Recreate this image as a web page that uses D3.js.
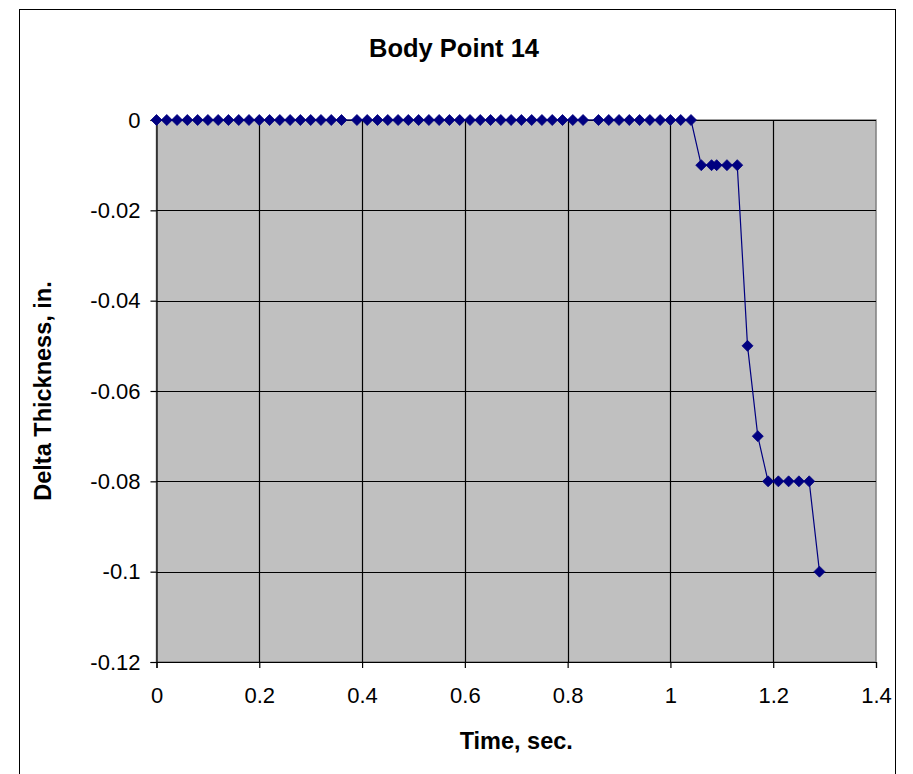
<!DOCTYPE html>
<html>
<head>
<meta charset="utf-8">
<script src="https://cdn.jsdelivr.net/npm/d3@7"></script>
<style>
  html, body { margin: 0; padding: 0; background: #fff; }
  svg { display: block; }
  text { font-family: "Liberation Sans", Arial, sans-serif; fill: #000; }
</style>
</head>
<body>
<svg id="chart" width="913" height="774"></svg>
<script>
// Sample times (sec.) and the measured change in thickness (in.) at body point 14
const times = [
  0, 0.02, 0.04, 0.06, 0.08, 0.10, 0.12, 0.14, 0.16, 0.18,
  0.20, 0.22, 0.24, 0.26, 0.28, 0.30, 0.32, 0.34, 0.36,
  0.39, 0.41, 0.43, 0.45, 0.47, 0.49, 0.51, 0.53, 0.55, 0.57,
  0.59, 0.61, 0.63, 0.65, 0.67, 0.69, 0.71, 0.73, 0.75, 0.77,
  0.79, 0.81, 0.83,
  0.86, 0.88, 0.90, 0.92, 0.94, 0.96, 0.98, 1.00, 1.02, 1.04,
  1.06, 1.08, 1.09, 1.11, 1.13,
  1.15, 1.17,
  1.19, 1.21, 1.23, 1.25, 1.27,
  1.29
];
const deltaThickness = [
  0, 0, 0, 0, 0, 0, 0, 0, 0, 0,
  0, 0, 0, 0, 0, 0, 0, 0, 0,
  0, 0, 0, 0, 0, 0, 0, 0, 0, 0,
  0, 0, 0, 0, 0, 0, 0, 0, 0, 0,
  0, 0, 0,
  0, 0, 0, 0, 0, 0, 0, 0, 0, 0,
  -0.01, -0.01, -0.01, -0.01, -0.01,
  -0.05, -0.07,
  -0.08, -0.08, -0.08, -0.08, -0.08,
  -0.10
];
const xTicks = [0, 0.2, 0.4, 0.6, 0.8, 1, 1.2, 1.4];
const yTicks = [0, -0.02, -0.04, -0.06, -0.08, -0.1, -0.12];
const xTickLabels = ["0", "0.2", "0.4", "0.6", "0.8", "1", "1.2", "1.4"];
const yTickLabels = ["0", "-0.02", "-0.04", "-0.06", "-0.08", "-0.1", "-0.12"];

const chartTitle = "Body Point 14";
const xTitle = "Time, sec.";
const yTitle = "Delta Thickness, in.";

const svg = d3.select("#chart");
const plot = { left: 156.5, right: 876, top: 120, bottom: 662 };

const x = d3.scaleLinear().domain([0, 1.4]).range([plot.left, plot.right]);
const y = d3.scaleLinear().domain([-0.12, 0]).range([plot.bottom, plot.top]);

// Chart area frame (runs off the bottom of the page)
svg.append("rect")
  .attr("x", 19.5).attr("y", 9.5)
  .attr("width", 876).attr("height", 800)
  .attr("fill", "#fff").attr("stroke", "#000").attr("stroke-width", 1);

// Plot area
svg.append("rect")
  .attr("x", plot.left).attr("y", plot.top)
  .attr("width", plot.right - plot.left).attr("height", plot.bottom - plot.top)
  .attr("fill", "#c0c0c0").attr("stroke", "#808080").attr("stroke-width", 1.5);

// Grid lines
const grid = svg.append("g").attr("stroke", "#000").attr("stroke-width", 1.2);
grid.selectAll("line.h").data(yTicks).join("line")
  .attr("class", "h")
  .attr("x1", plot.left).attr("x2", plot.right)
  .attr("y1", d => Math.round(y(d)) + 0.5).attr("y2", d => Math.round(y(d)) + 0.5);
grid.selectAll("line.v").data(xTicks.slice(1, -1)).join("line")
  .attr("class", "v")
  .attr("y1", plot.top).attr("y2", plot.bottom)
  .attr("x1", d => Math.round(x(d)) + 0.5).attr("x2", d => Math.round(x(d)) + 0.5);

// Axes
const xAxis = d3.axisBottom(x).tickValues(xTicks)
  .tickFormat((d, i) => xTickLabels[i]).tickSize(6).tickPadding(19);
const yAxis = d3.axisLeft(y).tickValues(yTicks)
  .tickFormat((d, i) => yTickLabels[i]).tickSize(6).tickPadding(10);

const gx = svg.append("g").attr("transform", `translate(0,${plot.bottom})`).call(xAxis);
const gy = svg.append("g").attr("transform", `translate(${plot.left},0)`).call(yAxis);
[gx, gy].forEach(g => {
  g.select(".domain").attr("stroke", "#000").attr("stroke-width", 1.2);
  g.selectAll(".tick line").attr("stroke", "#000").attr("stroke-width", 1.2);
  g.selectAll(".tick text")
    .attr("font-family", "Liberation Sans, Arial, sans-serif")
    .attr("font-size", 22).attr("fill", "#000");
});

// Series line and diamond markers
const pts = times.map((t, i) => [t, deltaThickness[i]]);
svg.append("path")
  .datum(pts)
  .attr("fill", "none").attr("stroke", "#000080").attr("stroke-width", 1.2)
  .attr("d", d3.line().x(d => x(d[0])).y(d => y(d[1])));

const diamond = "M0,-5.5L5.5,0L0,5.5L-5.5,0Z";
svg.append("g").selectAll("path").data(pts).join("path")
  .attr("d", diamond)
  .attr("transform", d => `translate(${x(d[0])},${y(d[1])})`)
  .attr("fill", "#000080").attr("stroke", "#000080").attr("stroke-width", 0.8);

// Titles
svg.append("text")
  .attr("x", 454).attr("y", 57)
  .attr("text-anchor", "middle")
  .attr("font-size", 25.5).attr("font-weight", "bold")
  .text(chartTitle);

svg.append("text")
  .attr("x", (plot.left + plot.right) / 2).attr("y", 749)
  .attr("text-anchor", "middle")
  .attr("font-size", 23.5).attr("font-weight", "bold")
  .text(xTitle);

svg.append("text")
  .attr("transform", `translate(51,${(plot.top + plot.bottom) / 2}) rotate(-90)`)
  .attr("text-anchor", "middle")
  .attr("font-size", 23.5).attr("font-weight", "bold")
  .text(yTitle);
</script>
</body>
</html>
